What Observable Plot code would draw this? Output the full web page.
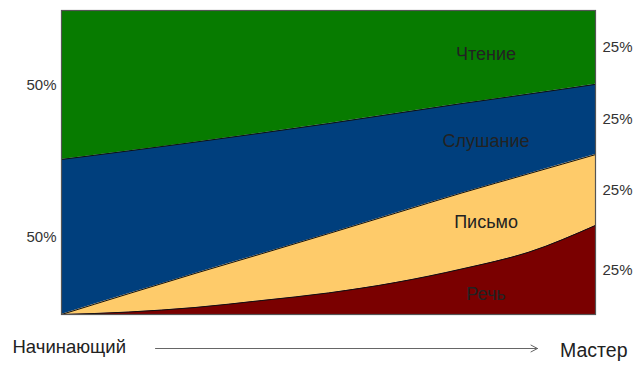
<!DOCTYPE html>
<html>
<head>
<meta charset="utf-8">
<script src="https://cdn.jsdelivr.net/npm/d3@7"></script>
<script src="https://cdn.jsdelivr.net/npm/@observablehq/plot@0.6"></script>
<style>
  body { margin: 0; background: #fff; }
</style>
</head>
<body>
<div id="chart"></div>
<script>
// Skill level, from beginner (0) to master (1)
const stages    = [0, 0.125, 0.25, 0.375, 0.5, 0.625, 0.75, 0.875, 1];
// Share of each skill at each stage
const speech    = [0, 0.008, 0.023, 0.046, 0.071, 0.105, 0.150, 0.205, 0.293];
const writing   = [0, 0.060, 0.112, 0.154, 0.195, 0.228, 0.250, 0.258, 0.233];
const listening = [0.510, 0.470, 0.432, 0.397, 0.362, 0.328, 0.294, 0.262, 0.231];
const reading   = [0.490, 0.462, 0.433, 0.403, 0.372, 0.339, 0.306, 0.275, 0.243];

const skills = ["Речь", "Письмо", "Слушание", "Чтение"];
const colors = ["#7a0000", "#fecb6a", "#003f7d", "#077b00"];
const leftLabels  = ["50%", "50%"];          // Чтение, Слушание at the start
const rightLabels = ["25%", "25%", "25%", "25%"]; // Речь..Чтение at the end
const endLabels = ["Начинающий", "Мастер"];

const series = [speech, writing, listening, reading];
const rows = [];
stages.forEach((s, i) => {
  skills.forEach((k, j) => rows.push({stage: s, skill: k, share: series[j][i]}));
});

// band midpoints for labels
function bandMid(idx, j) {
  let lo = 0;
  for (let m = 0; m < j; m++) lo += series[m][idx];
  return lo + series[j][idx] / 2;
}
const insideRows = skills.map((k, j) => ({
  skill: k,
  y: j === 0 ? bandMid(6, j) * 0.9 : (bandMid(6, j) + bandMid(7, j)) / 2
}));
const rightRows = skills.map((k, j) => ({label: rightLabels[j], y: bandMid(stages.length - 1, j)}));
const leftRows = [
  {label: leftLabels[0], y: bandMid(0, 3)},
  {label: leftLabels[1], y: bandMid(0, 2)}
];

const chart = Plot.plot({
  width: 640,
  height: 371,
  marginLeft: 61,
  marginRight: 45,
  marginTop: 10,
  marginBottom: 57,
  style: {fontFamily: "'Liberation Sans', Arial, sans-serif", background: "#fff"},
  x: {domain: [0, 1], axis: null},
  y: {domain: [0, 1], axis: null},
  color: {domain: skills, range: colors},
  marks: [
    Plot.areaY(rows, {x: "stage", y: "share", fill: "skill", order: skills, curve: "monotone-x"}),
    Plot.lineY(rows.filter(d => d.skill !== "Чтение"),
      Plot.stackY2({x: "stage", y: "share", z: "skill", order: skills, curve: "monotone-x",
        stroke: "#111", strokeWidth: 1})),
    Plot.frame({stroke: "#555", strokeWidth: 1.2}),
    Plot.text(insideRows, {x: 0.795, y: "y", text: "skill", fontSize: 18, fill: "#222"}),
    Plot.text(rightRows, {x: 1, y: "y", text: "label", dx: 22, fontSize: 15, fill: "#333"}),
    Plot.text(leftRows, {x: 0, y: "y", text: "label", dx: -20, fontSize: 15, fill: "#333"}),
    Plot.text([endLabels[0]], {x: 0, y: 0, text: d => d, dx: -49, dy: 33, textAnchor: "start", fontSize: 18.5, fill: "#222"}),
    Plot.text([endLabels[1]], {x: 1, y: 0, text: d => d, dx: 32, dy: 36, textAnchor: "end", fontSize: 19.5, fill: "#222"}),
    Plot.arrow([0], {x1: 0, x2: 1, y1: 0, y2: 0, dy: 34, insetStart: 94, insetEnd: 58,
      stroke: "#666", strokeWidth: 1, headLength: 11, headAngle: 55})
  ]
});
document.getElementById("chart").appendChild(chart);
</script>
</body>
</html>
